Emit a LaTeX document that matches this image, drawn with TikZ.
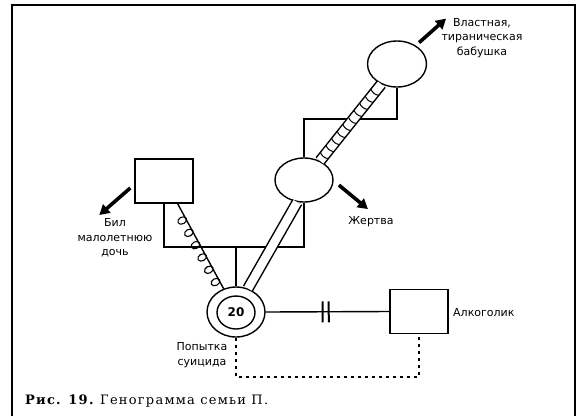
\documentclass[tikz,border=0pt]{standalone}
\usepackage{fontspec}
\setmainfont{DejaVu Serif}
\newfontfamily\lab{DejaVu Sans}
\newfontfamily\capfont[LetterSpace=9.5]{DejaVu Serif}
\usetikzlibrary{arrows.meta,decorations.pathmorphing,decorations.markings,calc,shapes.geometric}
\begin{document}
\begin{tikzpicture}[x=1pt,y=-1pt,
  lw/.style={line width=1.4pt},
  person/.style={draw, line width=1.4pt, ellipse, inner sep=0pt},
  male/.style={draw, line width=1.4pt, rectangle, minimum width=58pt, minimum height=44pt, inner sep=0pt},
  lbl/.style={font=\lab\fontsize{11}{14.5}\selectfont, align=center, inner sep=0pt},
  bigarrow/.style={line width=3.6pt, -{Triangle[length=10pt,width=11pt]}},
  rail/.style={double distance=8.5pt, line width=1.5pt},
  rungs/.style={postaction={decorate, decoration={markings,
      mark=between positions 0.07 and 0.95 step 9pt with {\draw[line width=1pt] (0,-5pt) to[bend left=30] (0,5pt);}}}},
  loops/.style={postaction={decorate, decoration={markings,
      mark=between positions 0.1 and 0.95 step 14pt with {\draw[line width=1.1pt] (0,4pt) ellipse [x radius=3.4pt, y radius=4.6pt];}}}},
  divorce/.style={postaction={decorate, decoration={markings,
      mark=at position 0.46 with {\draw[line width=2pt] (0,-10.5pt) -- (0,10.5pt);},
      mark=at position 0.51 with {\draw[line width=2pt] (0,-10.5pt) -- (0,10.5pt);}}}},
  dotline/.style={line width=1.6pt, dash pattern=on 3pt off 4pt},
  frame/.style={line width=1.3pt}
]
\useasboundingbox (0,0) rectangle (578,416);
% frame
\draw[frame] (12,416) -- (12,5) -- (575,5) -- (575,416);

% persons
\node[person, minimum width=59pt, minimum height=46pt] (grandma) at (397,64) {};
\node[person, minimum width=58pt, minimum height=44pt] (victim) at (304,180) {};
\node[male] (lbox) at (164,181) {};
\node[male] (abox) at (419,311.5) {};
\node[person, minimum width=58pt, minimum height=50pt] (patient) at (236,312) {};
\node[person, minimum width=38pt, minimum height=33pt, font=\lab\bfseries\fontsize{12}{14}\selectfont] (pin) at (236,312.5) {20};

% family lines
\draw[lw] (victim.north) |- (grandma.south |- 0,119) -- (grandma.south);
\draw[lw] (lbox.south) |- (victim.south |- 0,247) -- (victim.south);
\coordinate (sib) at (patient.north |- 0,247);
\draw[lw] (sib) -- (patient.north);

% relationships
\draw[rail, rungs] (victim.50) -- (grandma.232);
\draw[rail] (victim.253) -- (patient.63);
\draw[line width=1.4pt, loops] (patient.118) -- (lbox.-59);
\draw[lw, divorce] (patient.east) -- (abox.west);
\draw[dotline] (patient.south) |- (abox.south |- 0,377) -- (abox.south);

% arrows
\draw[bigarrow] (grandma.44) ++(3,-3) -- ++(27,-24);
\draw[bigarrow] (victim.-10) ++(6,0) -- ++(29,24);
\draw[bigarrow] (lbox.west |- 0,188) ++(-4,0) -- ++(-31,27);

% labels
\node[lbl] (tgm) at (482,38) {Властная,\\тираническая\\бабушка};
\node[lbl] (tv) at (371,222) {Жертва};
\node[lbl] (tb) at (115,238) {Бил\\малолетнюю\\дочь};
\node[lbl, anchor=west] (ta) at (453,313) {Алкоголик};
\node[lbl] (ts) at (202,355) {Попытка\\суицида};

% caption
\node[anchor=base west, inner sep=0pt, font=\capfont\fontsize{13}{15}\selectfont\bfseries] (cap1) at (25,404) {Рис. 19.};
\node[anchor=base west, inner sep=0pt, font=\capfont\fontsize{13}{15}\selectfont] (cap2) at (100,404) {Генограмма семьи П.};
\end{tikzpicture}
\end{document}
